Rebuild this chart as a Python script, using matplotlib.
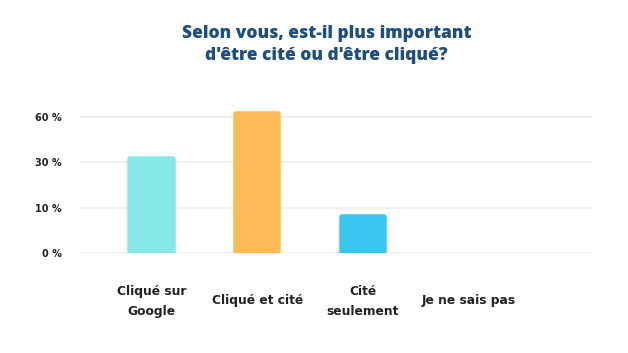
import numpy as np
import matplotlib
matplotlib.use("Agg")
import matplotlib.pyplot as plt

# data
categories = ["Cliqué sur\nGoogle", "Cliqué et cité", "Cité\nseulement", "Je ne sais pas"]
values = [32.5, 62, 8, 0]
colors = ["#86E8E6", "#FDBB58", "#38C6EE", "#D0D0D0"]
ytick_values = [0, 10, 30, 60]
ytick_labels = ["0 %", "10 %", "30 %", "60 %"]

plt.rcParams["font.family"] = ["DejaVu Sans"]

# uneven axis: 0,10,30,60 evenly spaced
knots_v = [0, 10, 30, 60, 90]
knots_p = [0, 1, 2, 3, 4]


def fwd(v):
    return np.interp(v, knots_v, knots_p)


def inv(p):
    return np.interp(p, knots_p, knots_v)


fig = plt.figure(figsize=(6.28, 3.53), dpi=100)
ax = fig.add_axes([0.127, 0.2824, 0.816, 0.434])
ax.set_yscale("function", functions=(fwd, inv))

x = np.arange(len(categories))
lw = [4 if v > 0 else 0 for v in values]
ax.bar(x, values, width=0.40, color=colors, edgecolor=colors,
       linewidth=lw, joinstyle="round", zorder=3)

ax.set_xlim(-0.68, 4.17)
ax.set_ylim(0, inv(3.37))
ax.set_yticks(ytick_values)
ax.set_yticklabels(ytick_labels)
ax.set_xticks(x)
ax.set_xticklabels(categories, linespacing=1.65)

ax.grid(axis="y", color="#EBEBEB", linewidth=1.2, zorder=0)
ax.grid(axis="x", visible=False)
for s in ax.spines.values():
    s.set_visible(False)
ax.tick_params(length=0)
ax.tick_params(axis="y", pad=13, labelsize=7, labelcolor="#222222")
ax.tick_params(axis="x", pad=23, labelsize=8.8, labelcolor="#222222")
for t in ax.get_yticklabels() + ax.get_xticklabels():
    t.set_fontweight("bold")
# single-line labels sit at the middle of the two-line ones
for t in ax.get_xticklabels():
    if "\n" not in t.get_text():
        t.set_y(-0.055)

fig.text(0.52, 0.875, "Selon vous, est-il plus important\nd'être cité ou d'être cliqué?",
         ha="center", va="center", fontsize=12.5, fontweight="heavy",
         family="Open Sans", color="#1D4E7E", linespacing=1.38)

fig.savefig("out.png", dpi=100, facecolor="white")
